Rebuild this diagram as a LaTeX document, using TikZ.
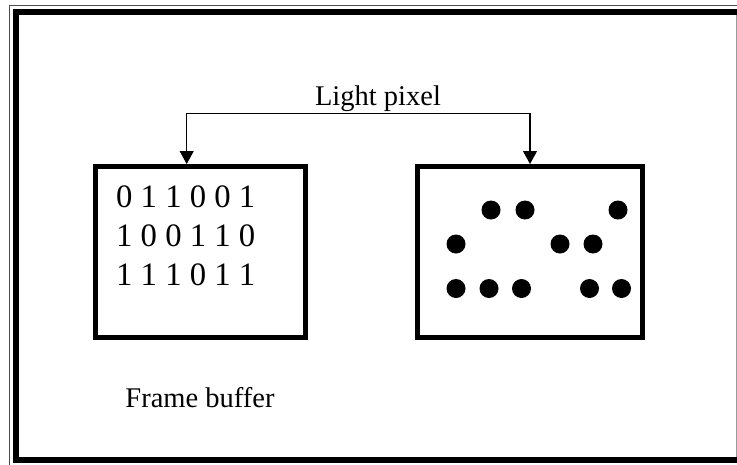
\documentclass[tikz,border=0pt]{standalone}
\usepackage{fontspec}
\setmainfont{Liberation Serif}
\usetikzlibrary{arrows.meta,calc,positioning}

\begin{document}
\begin{tikzpicture}[x=1pt,y=-1pt,
block/.style={
draw, rectangle, line width=5pt, minimum height=171pt, inner sep=0pt, outer sep=0pt
},
label/.style={inner sep=0pt, font=\fontsize{28.5}{34}\selectfont},
bits/.style={inner sep=0pt, align=left, font=\fontsize{32.7}{39}\selectfont},
link/.style={line width=1.2pt, shorten >=2pt, -{Triangle[length=13pt,width=14pt]}}]
    \useasboundingbox (0,0) rectangle (737,464);

    % page border
    \draw[line width=1pt, black!70] (9.5,5) rectangle (760,480);
    \draw[line width=6.5pt] (16,12) rectangle (746,460);
    \draw[line width=1pt, black!40] (736.5,15) -- (736.5,457);

    \node [block, minimum width=210pt] (buf) at (200,251.5) {};
    \node [block, minimum width=225pt, right=112.5pt of buf] (screen) {};

    \node [bits, anchor=north west] (bitmap) at ($(buf.north west)+(21,20)$) {
    0 1 1 0 0 1\\1 0 0 1 1 0\\1 1 1 0 1 1};

    \node [label, anchor=base] (lp) at (378,105) {Light pixel};
    \node [label, below=50pt of buf] (fb) {Frame buffer};

    \coordinate (fork) at (378,113.3);
  \draw[link] (fork) -| ($(buf.north)+(-13.3,0)$);
  \draw[link] (fork) -| (screen.north);

  \foreach \x/\y in {491/210, 525/210, 618/210,
      456/244, 560/244, 593/244,
      456/288.5, 489/288.5, 521.5/288.5, 589.5/288.5, 621.5/288.5}
    \fill (\x,\y) circle (9.5pt);
\end{tikzpicture}
\end{document}
